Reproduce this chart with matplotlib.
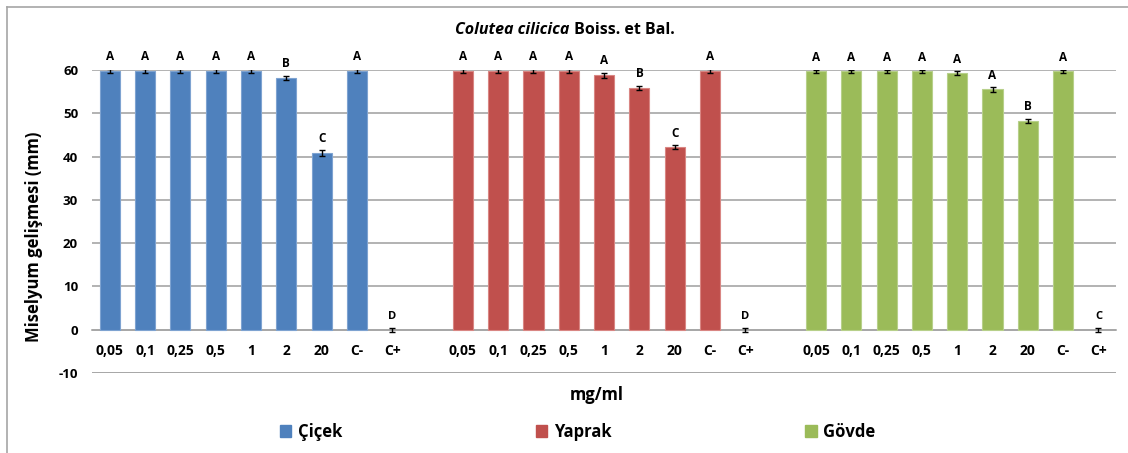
import numpy as np
import matplotlib.pyplot as plt
from matplotlib.lines import Line2D
from matplotlib.patches import Patch

plt.rcParams['font.family'] = ['Open Sans', 'DejaVu Sans']
plt.rcParams['font.weight'] = 'bold'

# doz etiketleri (her grupta aynı)
doses = ['0,05', '0,1', '0,25', '0,5', '1', '2', '20', 'C-', 'C+']
groups = ['Çiçek', 'Yaprak', 'Gövde']
colors = ['#4F81BD', '#C0504D', '#9BBB59']
edges = ['#7EA3D1', '#D98683', '#B7D08A']

cicek = [59.7, 59.7, 59.7, 59.7, 59.7, 58.2, 40.8, 59.8, 0]
yaprak = [59.8, 59.8, 59.8, 59.8, 58.8, 55.9, 42.2, 59.8, 0]
govde = [59.7, 59.7, 59.7, 59.7, 59.3, 55.5, 48.2, 59.7, 0]

cicek_err = [0.5, 0.5, 0.5, 0.5, 0.5, 0.5, 0.6, 0.4, 0.5]
yaprak_err = [0.4, 0.4, 0.4, 0.4, 0.6, 0.5, 0.4, 0.4, 0.5]
govde_err = [0.4, 0.4, 0.4, 0.4, 0.4, 0.5, 0.5, 0.4, 0.5]

cicek_lbl = ['A', 'A', 'A', 'A', 'A', 'B', 'C', 'A', 'D']
yaprak_lbl = ['A', 'A', 'A', 'A', 'A', 'B', 'C', 'A', 'D']
govde_lbl = ['A', 'A', 'A', 'A', 'A', 'A', 'B', 'A', 'C']

values = [cicek, yaprak, govde]
errors = [cicek_err, yaprak_err, govde_err]
letters = [cicek_lbl, yaprak_lbl, govde_lbl]

fig = plt.figure(figsize=(11.28, 4.53), dpi=100)
ax = fig.add_axes([0.0816, 0.1766, 0.9079, 0.669])

n = len(doses)
xticks, xlabels = [], []
for g in range(3):
    x = np.arange(n) + g * (n + 1)
    lw = [0.8 if v > 0 else 0 for v in values[g]]
    ax.bar(x, values[g], width=0.57, color=colors[g], edgecolor=edges[g],
           linewidth=lw, zorder=3)
    ax.errorbar(x, values[g], yerr=errors[g], fmt='none', ecolor='black',
                elinewidth=1, capsize=2.5, capthick=1, zorder=4)
    for xi, v, e, t in zip(x, values[g], errors[g], letters[g]):
        fs = 8 if v < 1 else 8.5
        ax.text(xi, v + e + 1.3, t, ha='center', va='bottom', fontsize=fs,
                fontweight='bold', clip_on=False, zorder=5)
    xticks += list(x)
    xlabels += doses

ax.set_xlim(-0.5, 3 * n + 2 - 0.5)
ax.set_ylim(-10, 60)
ax.set_yticks(range(-10, 61, 10))
ax.set_yticklabels([str(v) for v in range(-10, 61, 10)], fontsize=9.5, fontweight='bold')
ax.set_xticks(xticks)
ax.set_xticklabels(xlabels, fontsize=9.5, fontweight='bold')
ax.tick_params(axis='both', length=0)
ax.tick_params(axis='x', pad=10)
ax.tick_params(axis='y', pad=10)

ax.grid(axis='y', color='#A6A6A6', linewidth=1.2, zorder=0)
for s in ['top', 'right', 'left']:
    ax.spines[s].set_visible(False)
ax.spines['bottom'].set_position(('data', 0))
ax.spines['bottom'].set_color('#A6A6A6')
ax.spines['bottom'].set_linewidth(1.2)
ax.axhline(-10, color='#A6A6A6', linewidth=1.2, zorder=0)

ax.set_ylabel('Miselyum gelişmesi (mm)', fontsize=12, fontweight='bold', labelpad=8)
ax.yaxis.set_label_coords(-0.048, 0.45)

fig.text(0.505, 0.933, 'Colutea cilicica', ha='right', va='center', fontsize=11.5,
         fontweight='bold', style='italic')
fig.text(0.505, 0.933, ' Boiss. et Bal.', ha='left', va='center', fontsize=11.5,
         fontweight='bold')

fig.text(0.529, 0.127, 'mg/ml', ha='center', va='center', fontsize=12, fontweight='bold')

handles = [Patch(facecolor=c, edgecolor=c) for c in colors]
fig.legend(handles, groups, loc='center', bbox_to_anchor=(0.512, 0.047), ncol=3,
           frameon=False, prop={'weight': 'bold', 'size': 12},
           handlelength=0.7, handleheight=0.7, handletextpad=0.4, columnspacing=11.6)

# çerçeve
fig.add_artist(Line2D([0.0062, 1.0], [0.9845, 0.9845], color='#A6A6A6', linewidth=1.2))
fig.add_artist(Line2D([0.0062, 0.0062], [0.0, 0.9845], color='#A6A6A6', linewidth=1.2))

fig.savefig('out.png', dpi=100)
